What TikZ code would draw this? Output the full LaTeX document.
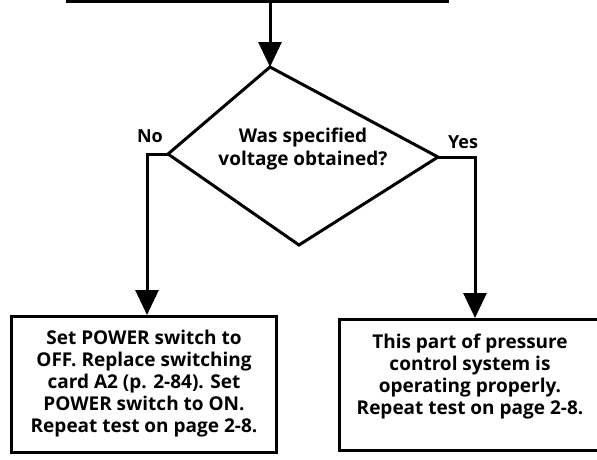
\documentclass[tikz,border=0pt]{standalone}
\usepackage{fontspec}
\setmainfont{Open Sans}
\usetikzlibrary{arrows.meta}
\begin{document}
\begin{tikzpicture}[x=1pt,y=-1pt,
  flow/.style={-{Triangle[length=25pt,width=23pt]}, line width=3pt},
  boxnode/.style={draw, line width=3pt, rectangle, inner sep=0pt},
  txt/.style={font=\fontsize{19}{22}\selectfont\bfseries, align=center, inner sep=0pt},
  lbl/.style={font=\fontsize{18}{22}\selectfont\bfseries, inner sep=0pt}]
\useasboundingbox (0,0) rectangle (597,459);
% previous box (cut off at top)
\node[boxnode, minimum width=380pt, minimum height=42pt] (prev) at (257,-20) {};
% decision diamond
\coordinate (dtop) at (270,67);
\coordinate (dright) at (438,157);
\coordinate (dbottom) at (299,245);
\coordinate (dleft) at (168,154);
\draw[line width=3pt, line join=miter] (dtop) -- (dright) -- (dbottom) -- (dleft) -- cycle;
\node[txt] (q) at (303,149) {Was specified\\[1pt]voltage obtained?};
\node[lbl] (no) at (150,136) {No};
\node[lbl] (yes) at (463,142) {Yes};
% boxes
\node[boxnode, minimum width=265pt, minimum height=136pt] (lbox) at (144,384.5) {};
\node[txt] (ltext) at (144,384) {Set POWER switch to\\OFF. Replace switching\\card A2 (p. 2-84). Set\\POWER switch to ON.\\Repeat test on page 2-8.};
\node[boxnode, minimum width=264pt, minimum height=131pt] (rbox) at (471,385) {};
\node[txt] (rtext) at (470,377) {This part of pressure\\control system is\\operating properly.\\Repeat test on page 2-8.};
% connectors
\coordinate (nocorner) at (147,154);
\coordinate (yescorner) at (475,157);
\draw[flow] (dtop |- prev.south) -- (dtop);
\draw[flow] (dleft) -- (nocorner) -- (nocorner |- lbox.north);
\draw[flow] (dright) -- (yescorner) -- (yescorner |- rbox.north);
\end{tikzpicture}
\end{document}
